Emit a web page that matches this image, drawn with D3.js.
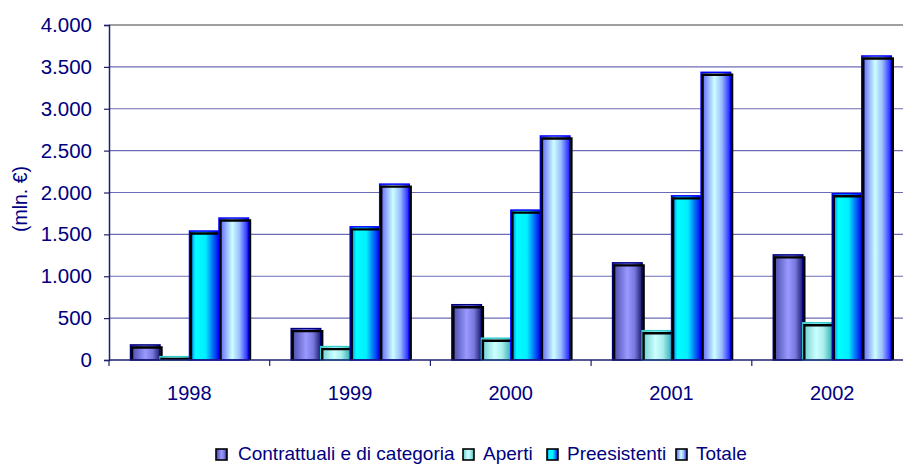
<!DOCTYPE html>
<html>
<head>
<meta charset="utf-8">
<script src="https://cdn.jsdelivr.net/npm/d3@7"></script>
<style>
  body { margin: 0; background: #fff; }
  text { font-family: "Liberation Sans", Arial, sans-serif; fill: #000080; }
</style>
</head>
<body>
<div id="chart"></div>
<script>
// dati
const anni = ["1998", "1999", "2000", "2001", "2002"];
const serie = ["Contrattuali e di categoria", "Aperti", "Preesistenti", "Totale"];
const contrattuali = [180, 375, 660, 1160, 1255];
const aperti = [40, 160, 260, 350, 445];
const preesistenti = [1540, 1590, 1790, 1960, 1985];
const totale = [1695, 2100, 2675, 3435, 3630];
const yTicks = [0, 500, 1000, 1500, 2000, 2500, 3000, 3500, 4000];

const valori = [contrattuali, aperti, preesistenti, totale];

const W = 903, H = 464;
const mLeft = 109, mTop = 25, mBottom = 360;

const svg = d3.select("#chart").append("svg")
  .attr("width", W).attr("height", H);

// gradienti orizzontali per ogni serie
const grad = [
  [["0", "#4545a5"], ["0.5", "#9999ff"], ["0.75", "#7777dd"], ["1", "#1a1a6a"]],
  [["0", "#66cccc"], ["0.45", "#ccffff"], ["0.7", "#aaeeee"], ["1", "#33b0b0"]],
  [["0", "#0055ff"], ["0.2", "#00ffff"], ["0.55", "#00eeff"], ["1", "#0000ee"]],
  [["0", "#5555ff"], ["0.45", "#ccffff"], ["0.7", "#99bbff"], ["1", "#1a1aff"]]
];
const bordi = ["#000080", "#33cccc", "#0000ff", "#0000ff"];

const defs = svg.append("defs");
grad.forEach((g, i) => {
  const lg = defs.append("linearGradient").attr("id", "g" + i)
    .attr("x1", "0%").attr("x2", "100%").attr("y1", "0%").attr("y2", "0%");
  g.forEach(s => lg.append("stop").attr("offset", s[0]).attr("stop-color", s[1]));
});

const x = d3.scaleBand().domain(anni).range([mLeft, mLeft + 5 * 160.7]);
const xs = d3.scaleBand().domain(d3.range(4)).range([21.5, 139.5]);
const y = d3.scaleLinear().domain([0, 4000]).range([mBottom, mTop]);

// griglia
svg.append("g").selectAll("line")
  .data(yTicks.filter(d => d > 0))
  .join("line")
    .attr("x1", mLeft).attr("x2", W)
    .attr("y1", d => y(d)).attr("y2", d => y(d))
    .attr("stroke", d => d === 4000 ? "#808080" : "#6c6cb4")
    .attr("stroke-width", d => d === 4000 ? 1.5 : 1.2);

// asse y
const yAxis = svg.append("g")
  .attr("transform", `translate(${mLeft},0)`)
  .call(d3.axisLeft(y).tickValues(yTicks).tickSize(5).tickPadding(12)
    .tickFormat(d => d3.format(",")(d).replace(/,/g, ".")));
yAxis.select(".domain").attr("stroke", "#1f1f70").attr("stroke-width", 1.5);
yAxis.selectAll(".tick line").attr("stroke", "#1f1f70").attr("stroke-width", 1.2);
yAxis.selectAll("text").style("font-size", "20.5px").attr("fill", "#000080")
  .attr("font-family", "Liberation Sans, Arial, sans-serif");

// barre
const gruppi = svg.append("g").selectAll("g")
  .data(anni)
  .join("g")
    .attr("transform", d => `translate(${x(d)},0)`);

serie.forEach((s, i) => {
  gruppi.append("rect")
    .attr("x", xs(i))
    .attr("y", (d, j) => y(valori[i][j]))
    .attr("width", xs.bandwidth())
    .attr("height", (d, j) => mBottom - y(valori[i][j]))
    .attr("fill", `url(#g${i})`)
    .attr("stroke", bordi[i])
    .attr("stroke-width", 1.5);
  // ombra nera spostata
  gruppi.append("path")
    .attr("d", (d, j) => {
      const x0 = xs(i) + 1.5, x1 = xs(i) + xs.bandwidth() + 1.5;
      const y0 = Math.min(y(valori[i][j]) + 2.5, mBottom - 1);
      return `M${x0},${mBottom}V${y0}H${x1}V${mBottom}`;
    })
    .attr("fill", "none")
    .attr("stroke", "#000")
    .attr("stroke-width", 2.4);
});

// asse x
svg.append("line")
  .attr("x1", mLeft).attr("x2", W).attr("y1", mBottom).attr("y2", mBottom)
  .attr("stroke", "#1f1f70").attr("stroke-width", 1.5);
svg.append("g").selectAll("line")
  .data(d3.range(6))
  .join("line")
    .attr("x1", d => mLeft + d * x.bandwidth()).attr("x2", d => mLeft + d * x.bandwidth())
    .attr("y1", mBottom).attr("y2", mBottom + 6)
    .attr("stroke", "#1f1f70").attr("stroke-width", 1.2);
svg.append("g").selectAll("text")
  .data(anni)
  .join("text")
    .attr("x", d => x(d) + x.bandwidth() / 2)
    .attr("y", 400)
    .attr("text-anchor", "middle")
    .style("font-size", "20px")
    .text(d => d);

// titolo asse y
svg.append("text")
  .attr("transform", "translate(27,199) rotate(-90)")
  .attr("text-anchor", "middle")
  .style("font-size", "19.5px")
  .text("(mln. €)");

// legenda
const legX = [216, 463, 547, 676];
const leg = svg.append("g").selectAll("g")
  .data(serie)
  .join("g")
    .attr("transform", (d, i) => `translate(${legX[i]},449)`);
leg.append("rect")
  .attr("x", 0).attr("y", 0).attr("width", 11).attr("height", 11)
  .attr("fill", (d, i) => `url(#g${i})`)
  .attr("stroke", "#000").attr("stroke-width", 1.6);
leg.append("text")
  .attr("x", (d, i) => i === 0 ? 22 : 20).attr("y", 11)
  .style("font-size", "19px")
  .text(d => d);
</script>
</body>
</html>
